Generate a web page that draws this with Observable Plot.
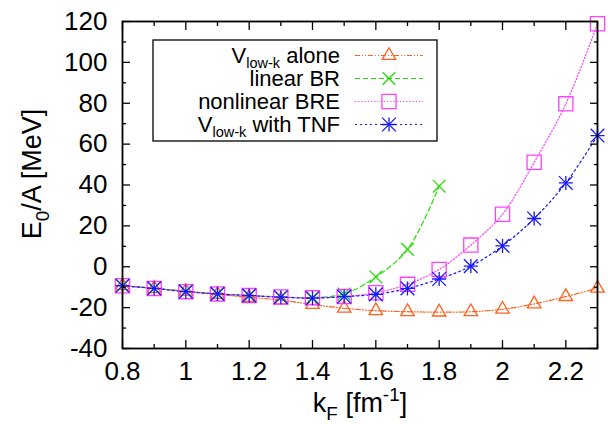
<!DOCTYPE html>
<html><head><meta charset="utf-8">
<script src="https://cdn.jsdelivr.net/npm/d3@7"></script>
<script src="https://cdn.jsdelivr.net/npm/@observablehq/plot@0.6"></script>
<style>body{margin:0;background:#fff}</style>
</head><body><div id="chart"></div>
<script>
// ---- data ----
const kF = [0.8, 0.9, 1.0, 1.1, 1.2, 1.3, 1.4, 1.5, 1.6, 1.7, 1.8, 1.9, 2.0, 2.1, 2.2, 2.3];
const vlowkAlone   = [-9.3, -10.6, -12.0, -13.5, -15.0, -16.3, -18.5, -20.3, -21.5, -22.0, -22.2, -22.0, -20.8, -18.2, -14.6, -10.5];
const linearBR     = [-9.3, -10.5, -12.0, -13.2, -14.0, -14.8, -15.0, -13.3, -5.0, 8.5, 39.4];
const nonlinearBRE = [-9.3, -10.6, -12.2, -13.3, -14.1, -14.8, -15.2, -14.6, -12.7, -8.6, -1.3, 10.6, 25.7, 51.1, 79.7, 118.9];
const vlowkTNF     = [-9.3, -10.6, -12.2, -13.3, -14.1, -14.9, -15.4, -14.6, -13.5, -10.6, -6.0, 0.3, 10.2, 23.6, 41.0, 64.2];
const seriesNames = ["V_{low-k} alone", "linear BR", "nonlinear BRE", "V_{low-k} with TNF"];
const xTicks = [0.8, 1, 1.2, 1.4, 1.6, 1.8, 2, 2.2];
const xMinor = [0.9, 1.1, 1.3, 1.5, 1.7, 1.9, 2.1, 2.3];
const yTicks = [-40, -20, 0, 20, 40, 60, 80, 100, 120];
const yMinor = [-30, -10, 10, 30, 50, 70, 90, 110];
const xLabel = "k_{F} [fm^{-1}]";
const yLabel = "E_{0}/A [MeV]";

// ---- styles ----
const styles = [
  {color: "#ff6020", dash: "5,2,1,2,1,2", sym: [["triangle", 5.0]]},
  {color: "#22e000", dash: "5,3", sym: [["times", 5.8]]},
  {color: "#ff40ff", dash: "1.2,2", sym: [["square", 8.0]]},
  {color: "#1818ff", dash: "2,3", sym: [["plus", 4.6], ["times", 6.3]]}
];
const seriesValues = [vlowkAlone, linearBR, nonlinearBRE, vlowkTNF];
const rows = seriesValues.map((vals, s) => vals.map((v, i) => ({s, x: kF[i], y: v})));

const marks = [];
rows.forEach((data, s) => {
  const st = styles[s];
  marks.push(Plot.line(data, {x: "x", y: "y", stroke: st.color, strokeWidth: 1.2, strokeDasharray: st.dash, curve: "catmull-rom"}));
});
rows.forEach((data, s) => {
  const st = styles[s];
  st.sym.forEach(([sym, r]) => marks.push(Plot.dot(data, {x: "x", y: "y", symbol: sym, r, stroke: st.color, fill: "none", strokeWidth: 1.3})));
});

const fmt = d => String(d);
marks.push(
  Plot.axisX(xTicks, {anchor: "bottom", tickSize: -8, fill: "none", strokeWidth: 1.3, label: null}),
  Plot.axisX(xMinor, {anchor: "bottom", tickSize: -4, fill: "none", strokeWidth: 1.3, label: null}),
  Plot.axisX(xTicks, {anchor: "top", tickSize: -8, fill: "none", strokeWidth: 1.3, label: null}),
  Plot.axisX(xMinor, {anchor: "top", tickSize: -4, fill: "none", strokeWidth: 1.3, label: null}),
  Plot.axisY(yTicks, {anchor: "left", tickSize: -8, fill: "none", strokeWidth: 1.3, label: null}),
  Plot.axisY(yMinor, {anchor: "left", tickSize: -4, fill: "none", strokeWidth: 1.3, label: null}),
  Plot.axisY(yTicks, {anchor: "right", tickSize: -8, fill: "none", strokeWidth: 1.3, label: null}),
  Plot.axisY(yMinor, {anchor: "right", tickSize: -4, fill: "none", strokeWidth: 1.3, label: null}),
  Plot.axisX(xTicks, {anchor: "bottom", tickSize: 0, tickPadding: 13, tickFormat: fmt, fontSize: 26, label: null, fill: "black"}),
  Plot.axisY(yTicks, {anchor: "left", tickSize: 0, tickPadding: 15, tickFormat: fmt, fontSize: 26, label: null, fill: "black"}),
  Plot.frame({stroke: "black", strokeWidth: 1.8}),
  Plot.text([xLabel], {frameAnchor: "bottom", dy: 55, fontSize: 27, text: d => d, textAnchor: "middle", lineAnchor: "middle", fill: "black"}),
  Plot.text([yLabel], {frameAnchor: "left", dx: -90, dy: -11, rotate: -90, fontSize: 27, text: d => d, textAnchor: "middle", lineAnchor: "middle", fill: "black"})
);

const chart = Plot.plot({
  width: 608, height: 424,
  marginLeft: 122, marginRight: 11, marginTop: 21, marginBottom: 76,
  style: {fontFamily: "'Liberation Sans', Arial, sans-serif", fontSize: "24px", background: "white", color: "black"},
  x: {domain: [0.8, 2.3], label: null},
  y: {domain: [-40, 120], label: null},
  marks
});
document.getElementById("chart").appendChild(chart);

// rich text: _{...} subscript, ^{...} superscript
function richify(el, str, sizeFactor = 0.7, sub = 0.28, sup = -0.4) {
  const t = d3.select(el);
  t.text(null);
  const re = /([_^])\{([^}]*)\}/g;
  let last = 0, m;
  const parts = [];
  while ((m = re.exec(str))) {
    if (m.index > last) parts.push({t: str.slice(last, m.index), k: ""});
    parts.push({t: m[2], k: m[1]});
    last = re.lastIndex;
  }
  if (last < str.length) parts.push({t: str.slice(last), k: ""});
  let shift = 0;
  parts.forEach(p => {
    const ts = t.append("tspan").text(p.t);
    const target = p.k === "_" ? sub : p.k === "^" ? sup : 0;
    const fs = p.k ? sizeFactor : 1;
    if (p.k) ts.attr("font-size", (sizeFactor * 100) + "%");
    const delta = target - shift;
    if (delta !== 0) ts.attr("dy", (delta / fs).toFixed(3) + "em");
    shift = target;
  });
}
const svg = d3.select(chart.tagName.toLowerCase() === "svg" ? chart : chart.querySelector("svg"));
svg.selectAll("text").each(function() {
  const s = this.textContent;
  if (s.includes("_{") || s.includes("^{")) richify(this, s);
});

// legend
const lg = svg.append("g").attr("class", "legend");
lg.append("rect").attr("x", 153).attr("y", 40).attr("width", 284).attr("height", 101)
  .attr("fill", "white").attr("stroke", "black").attr("stroke-width", 1.3);
const rowY = [55.5, 78.5, 101.5, 124.5];
seriesNames.forEach((name, i) => {
  const st = styles[i], y = rowY[i];
  const txt = lg.append("text").attr("x", 340).attr("y", y).attr("dy", "0.33em")
    .attr("text-anchor", "end").attr("font-size", 22).attr("fill", "black");
  richify(txt.node(), name, 0.66, 0.22);
  lg.append("line").attr("x1", 355).attr("x2", 423).attr("y1", y).attr("y2", y)
    .attr("stroke", st.color).attr("stroke-width", 1.2).attr("stroke-dasharray", st.dash);
  st.sym.forEach(([sym, r]) => {
    const type = {triangle: d3.symbolTriangle, times: d3.symbolTimes, square: d3.symbolSquare, plus: d3.symbolPlus}[sym];
    lg.append("path").attr("transform", `translate(389,${y})`)
      .attr("d", d3.symbol(type, r * r * Math.PI)())
      .attr("fill", "none").attr("stroke", st.color).attr("stroke-width", 1.3);
  });
});
</script></body></html>
